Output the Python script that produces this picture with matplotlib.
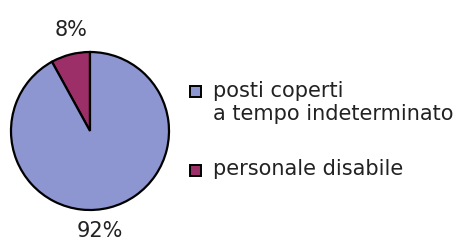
import matplotlib.pyplot as plt
from matplotlib.patches import Rectangle

# dati
categorie = ['posti coperti\na tempo indeterminato', 'personale disabile']
percentuali = [92, 8]
colori = ['#8e96d2', '#9c2f68']

plt.rcParams['font.family'] = ['DejaVu Sans']
fig = plt.figure(figsize=(4.61, 2.42), dpi=100)
fig.patch.set_facecolor('white')

W, H = 461, 242
ax = fig.add_axes([11 / W, 32 / H, 158 / W, 158 / H])

# la fetta piccola parte dalle ore 12 verso sinistra
wedges, _ = ax.pie(percentuali[::-1], colors=colori[::-1], startangle=90,
                   counterclock=True, radius=1,
                   wedgeprops=dict(edgecolor='black', linewidth=1.6))
ax.set_xlim(-1.0, 1.0)
ax.set_ylim(-1.0, 1.0)
ax.axis('off')
for w in wedges:
    w.set_clip_on(False)

# etichette percentuali
fig.text(71 / W, 1 - 29.5 / H, f'{percentuali[1]}%', ha='center', va='center',
         fontsize=15, color='#222222')
fig.text(100 / W, 1 - 231 / H, f'{percentuali[0]}%', ha='center', va='center',
         fontsize=15, color='#222222')

# legenda disegnata a mano
quadrato_y = [91, 170]
base_y = [97, 175]
for nome, col, qy, by in zip(categorie, colori, quadrato_y, base_y):
    fig.add_artist(Rectangle((190 / W, 1 - (qy + 5.5) / H), 11 / W, 11 / H,
                             transform=fig.transFigure, facecolor=col,
                             edgecolor='black', linewidth=1.4))
    for i, riga in enumerate(nome.split('\n')):
        fig.text(213 / W, 1 - (by + 23 * i) / H, riga, ha='left', va='baseline',
                 fontsize=15, color='#222222')

fig.savefig('out.png', dpi=100, facecolor='white')
